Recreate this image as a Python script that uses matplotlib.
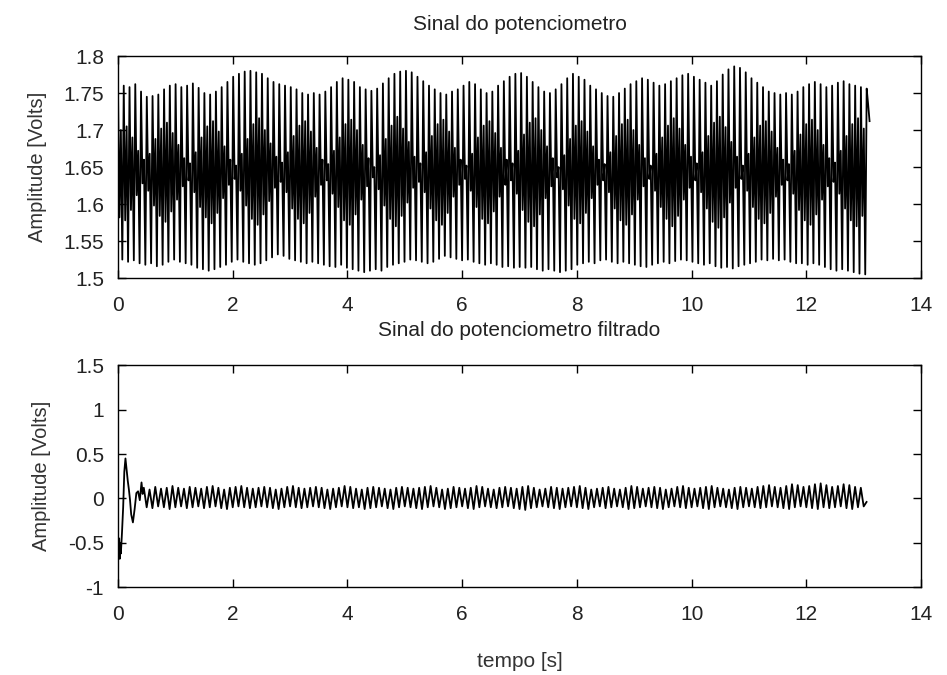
import numpy as np
import matplotlib
matplotlib.use("Agg")
import matplotlib.pyplot as plt
from matplotlib.ticker import FuncFormatter

plt.rcParams['font.family'] = ['Liberation Sans', 'DejaVu Sans']

DT = 0.0251  # passo de amostragem do sinal bruto

# sinal bruto: por ciclo -> pico externo, vale interno, pico interno, vale externo
pico_ext = [
    1.755, 1.760, 1.758, 1.762, 1.752, 1.745, 1.746, 1.748, 1.755, 1.760,
    1.762, 1.758, 1.760, 1.763, 1.757, 1.750, 1.748, 1.752, 1.758, 1.765,
    1.772, 1.776, 1.779, 1.780, 1.778, 1.776, 1.770, 1.765, 1.762, 1.760,
    1.758, 1.755, 1.750, 1.748, 1.750, 1.748, 1.752, 1.758, 1.765, 1.770,
    1.768, 1.765, 1.758, 1.755, 1.753, 1.756, 1.763, 1.770, 1.776, 1.779,
    1.780, 1.778, 1.772, 1.766, 1.760, 1.755, 1.750, 1.748, 1.752, 1.755,
    1.760, 1.765, 1.762, 1.755, 1.750, 1.752, 1.760, 1.766, 1.772, 1.776,
    1.777, 1.772, 1.765, 1.758, 1.752, 1.750, 1.755, 1.762, 1.770, 1.776,
    1.772, 1.768, 1.760, 1.755, 1.750, 1.746, 1.745, 1.750, 1.756, 1.762,
    1.766, 1.770, 1.768, 1.764, 1.760, 1.762, 1.766, 1.770, 1.774, 1.776,
    1.772, 1.768, 1.764, 1.760, 1.766, 1.775, 1.782, 1.786, 1.784, 1.778,
    1.770, 1.764, 1.758, 1.752, 1.750, 1.748, 1.750, 1.748, 1.752, 1.758,
    1.762, 1.765, 1.762, 1.758, 1.760, 1.764, 1.766, 1.762, 1.760, 1.758,
]
vale_int = [
    1.582, 1.578, 1.592, 1.612, 1.628, 1.618, 1.598, 1.584, 1.576, 1.590,
    1.606, 1.624, 1.632, 1.616, 1.596, 1.582, 1.574, 1.588, 1.608, 1.626,
    1.634, 1.618, 1.598, 1.580, 1.572, 1.586, 1.604, 1.622, 1.630, 1.616,
    1.594, 1.580, 1.574, 1.588, 1.610, 1.626, 1.632, 1.614, 1.596, 1.578,
    1.572, 1.586, 1.606, 1.624, 1.636, 1.620, 1.598, 1.580, 1.570, 1.584,
    1.602, 1.622, 1.630, 1.616, 1.594, 1.578, 1.572, 1.588, 1.610, 1.626,
    1.634, 1.618, 1.596, 1.580, 1.574, 1.590, 1.610, 1.626, 1.632, 1.614,
    1.592, 1.576, 1.570, 1.586, 1.608, 1.624, 1.636, 1.620, 1.598, 1.580,
    1.574, 1.588, 1.608, 1.626, 1.632, 1.616, 1.594, 1.578, 1.572, 1.586,
    1.606, 1.624, 1.634, 1.618, 1.596, 1.580, 1.570, 1.584, 1.606, 1.622,
    1.632, 1.616, 1.594, 1.576, 1.568, 1.582, 1.602, 1.622, 1.634, 1.618,
    1.596, 1.580, 1.574, 1.588, 1.610, 1.626, 1.632, 1.614, 1.592, 1.578,
    1.572, 1.586, 1.606, 1.624, 1.630, 1.614, 1.594, 1.578, 1.570, 1.584,
]
pico_int = [
    1.700, 1.705, 1.690, 1.672, 1.660, 1.668, 1.688, 1.702, 1.710, 1.696,
    1.680, 1.662, 1.655, 1.670, 1.690, 1.705, 1.712, 1.698, 1.678, 1.660,
    1.652, 1.668, 1.688, 1.708, 1.716, 1.700, 1.682, 1.664, 1.656, 1.670,
    1.692, 1.706, 1.712, 1.698, 1.676, 1.660, 1.654, 1.672, 1.690, 1.708,
    1.714, 1.700, 1.680, 1.662, 1.650, 1.666, 1.688, 1.706, 1.718, 1.702,
    1.684, 1.664, 1.655, 1.670, 1.692, 1.708, 1.714, 1.698, 1.676, 1.660,
    1.652, 1.668, 1.690, 1.706, 1.712, 1.696, 1.676, 1.660, 1.655, 1.672,
    1.694, 1.710, 1.716, 1.700, 1.678, 1.662, 1.650, 1.666, 1.688, 1.706,
    1.712, 1.698, 1.678, 1.660, 1.654, 1.670, 1.692, 1.708, 1.714, 1.700,
    1.680, 1.662, 1.652, 1.668, 1.690, 1.706, 1.716, 1.702, 1.680, 1.664,
    1.655, 1.670, 1.692, 1.710, 1.718, 1.704, 1.684, 1.664, 1.652, 1.668,
    1.690, 1.706, 1.712, 1.698, 1.676, 1.660, 1.654, 1.672, 1.694, 1.708,
    1.714, 1.700, 1.680, 1.662, 1.656, 1.672, 1.692, 1.708, 1.716, 1.702,
]
vale_ext = [
    1.525, 1.522, 1.524, 1.520, 1.518, 1.520, 1.516, 1.518, 1.522, 1.525,
    1.522, 1.520, 1.518, 1.514, 1.512, 1.510, 1.512, 1.515, 1.518, 1.522,
    1.525, 1.522, 1.520, 1.518, 1.520, 1.524, 1.528, 1.532, 1.530, 1.526,
    1.524, 1.522, 1.520, 1.522, 1.520, 1.518, 1.516, 1.515, 1.518, 1.514,
    1.512, 1.510, 1.508, 1.510, 1.512, 1.510, 1.515, 1.518, 1.520, 1.522,
    1.525, 1.524, 1.522, 1.520, 1.522, 1.526, 1.530, 1.528, 1.526, 1.524,
    1.525, 1.522, 1.520, 1.518, 1.520, 1.518, 1.515, 1.516, 1.514, 1.515,
    1.514, 1.515, 1.512, 1.510, 1.512, 1.510, 1.508, 1.510, 1.512, 1.518,
    1.520, 1.522, 1.520, 1.524, 1.525, 1.522, 1.520, 1.522, 1.520, 1.518,
    1.516, 1.515, 1.518, 1.520, 1.522, 1.520, 1.523, 1.525, 1.524, 1.522,
    1.520, 1.518, 1.520, 1.516, 1.514, 1.515, 1.513, 1.516, 1.518, 1.520,
    1.522, 1.525, 1.524, 1.526, 1.524, 1.525, 1.522, 1.520, 1.520, 1.518,
    1.520, 1.518, 1.515, 1.512, 1.510, 1.512, 1.510, 1.508, 1.506, 1.505,
]
fim_bruto = [1.756, 1.735, 1.712]

# sinal filtrado: transitorio inicial (tempo, valor)
t_trans = [0.00, 0.01, 0.02, 0.03, 0.04, 0.05, 0.07, 0.09, 0.11, 0.13, 0.15,
           0.17, 0.19, 0.21, 0.23, 0.26, 0.29, 0.32, 0.35, 0.38, 0.41, 0.43]
v_trans = [-0.42, -0.66, -0.45, -0.68, -0.50, -0.62, -0.38, -0.10, 0.30, 0.45, 0.32,
           0.20, 0.10, -0.02, -0.18, -0.27, -0.12, 0.06, 0.08, -0.02, 0.18, 0.05]
T0_REGIME = 0.45
DT_REGIME = 0.05
picos_filt = [
    0.12, 0.10, 0.13, 0.11, 0.12, 0.14, 0.12, 0.11, 0.13, 0.12,
    0.11, 0.13, 0.14, 0.12, 0.10, 0.12, 0.13, 0.14, 0.12, 0.11,
    0.12, 0.13, 0.12, 0.10, 0.11, 0.13, 0.14, 0.12, 0.11, 0.12,
    0.13, 0.12, 0.10, 0.11, 0.12, 0.14, 0.13, 0.11, 0.10, 0.12,
    0.13, 0.12, 0.11, 0.10, 0.12, 0.13, 0.12, 0.11, 0.12, 0.13,
    0.14, 0.12, 0.10, 0.11, 0.13, 0.12, 0.11, 0.12, 0.14, 0.13,
    0.11, 0.10, 0.12, 0.13, 0.12, 0.11, 0.13, 0.14, 0.12, 0.10,
    0.11, 0.13, 0.12, 0.11, 0.12, 0.13, 0.14, 0.12, 0.10, 0.11,
    0.12, 0.13, 0.11, 0.10, 0.12, 0.14, 0.13, 0.11, 0.12, 0.13,
    0.12, 0.10, 0.11, 0.13, 0.14, 0.12, 0.11, 0.12, 0.13, 0.14,
    0.12, 0.11, 0.10, 0.12, 0.13, 0.12, 0.11, 0.13, 0.14, 0.15,
    0.13, 0.12, 0.14, 0.16, 0.15, 0.13, 0.14, 0.16, 0.17, 0.15,
    0.13, 0.14, 0.16, 0.15, 0.13, 0.12,
]
vales_filt = [
    -0.10, -0.11, -0.09, -0.10, -0.12, -0.10, -0.09, -0.11, -0.10, -0.09,
    -0.11, -0.10, -0.09, -0.11, -0.12, -0.10, -0.09, -0.10, -0.11, -0.10,
    -0.09, -0.10, -0.11, -0.12, -0.10, -0.09, -0.10, -0.11, -0.10, -0.09,
    -0.10, -0.11, -0.12, -0.10, -0.09, -0.10, -0.11, -0.10, -0.12, -0.11,
    -0.10, -0.09, -0.11, -0.12, -0.10, -0.09, -0.10, -0.11, -0.12, -0.10,
    -0.09, -0.10, -0.12, -0.11, -0.10, -0.09, -0.11, -0.12, -0.10, -0.09,
    -0.10, -0.11, -0.10, -0.09, -0.11, -0.12, -0.13, -0.11, -0.10, -0.09,
    -0.10, -0.11, -0.12, -0.10, -0.09, -0.10, -0.11, -0.12, -0.10, -0.09,
    -0.11, -0.10, -0.09, -0.10, -0.12, -0.11, -0.10, -0.09, -0.10, -0.11,
    -0.12, -0.10, -0.09, -0.10, -0.11, -0.10, -0.09, -0.11, -0.12, -0.10,
    -0.09, -0.10, -0.11, -0.12, -0.10, -0.09, -0.10, -0.11, -0.10, -0.09,
    -0.10, -0.11, -0.12, -0.10, -0.09, -0.10, -0.11, -0.12, -0.10, -0.11,
    -0.10, -0.09, -0.11, -0.12, -0.10, -0.09,
]
fim_filt = [-0.04]

X_TICKS = [0, 2, 4, 6, 8, 10, 12, 14]
Y_TICKS_BRUTO = [1.5, 1.55, 1.6, 1.65, 1.7, 1.75, 1.8]
Y_TICKS_FILT = [-1, -0.5, 0, 0.5, 1, 1.5]

# monta as series
bruto = np.column_stack([pico_ext, vale_int, pico_int, vale_ext]).ravel()
bruto = np.concatenate([bruto, fim_bruto])
t_bruto = np.arange(len(bruto)) * DT

regime = np.column_stack([picos_filt, vales_filt]).ravel()
regime = np.concatenate([regime, fim_filt])
t_regime = T0_REGIME + np.arange(len(regime)) * DT_REGIME
filt = np.concatenate([v_trans, regime])
t_filt = np.concatenate([t_trans, t_regime])


def estilo(ax, yticks, ylim):
    ax.set_xlim(0, 14)
    ax.set_ylim(*ylim)
    ax.set_xticks(X_TICKS)
    ax.set_yticks(yticks)
    fmt = FuncFormatter(lambda v, p: f"{v:g}")
    ax.xaxis.set_major_formatter(fmt)
    ax.yaxis.set_major_formatter(fmt)
    ax.tick_params(direction='in', length=6, width=1, top=True, right=True,
                   labelsize=15, labelcolor='#222222')
    ax.tick_params(axis='x', pad=13)
    ax.tick_params(axis='y', pad=10)
    for s in ax.spines.values():
        s.set_linewidth(1)
        s.set_color('black')
    ax.set_ylabel("Amplitude [Volts]", fontsize=14.5, labelpad=12, color='#333333')


fig = plt.figure(figsize=(9.47, 6.75), dpi=100)
ax1 = fig.add_axes([0.1246, 0.588, 0.848, 0.329])
ax2 = fig.add_axes([0.1246, 0.130, 0.848, 0.329])

ax1.plot(t_bruto, bruto, color='black', lw=1.3)
estilo(ax1, Y_TICKS_BRUTO, (1.5, 1.8))
ax1.set_title("Sinal do potenciometro", fontsize=15, pad=19, color='#222222')

ax2.plot(t_filt, filt, color='black', lw=1.3)
estilo(ax2, Y_TICKS_FILT, (-1, 1.5))
ax2.set_title("Sinal do potenciometro filtrado", fontsize=15, pad=21, color='#222222')
ax2.set_xlabel("tempo [s]", fontsize=15, labelpad=20, color='#333333')

fig.savefig("out.png", dpi=100)
